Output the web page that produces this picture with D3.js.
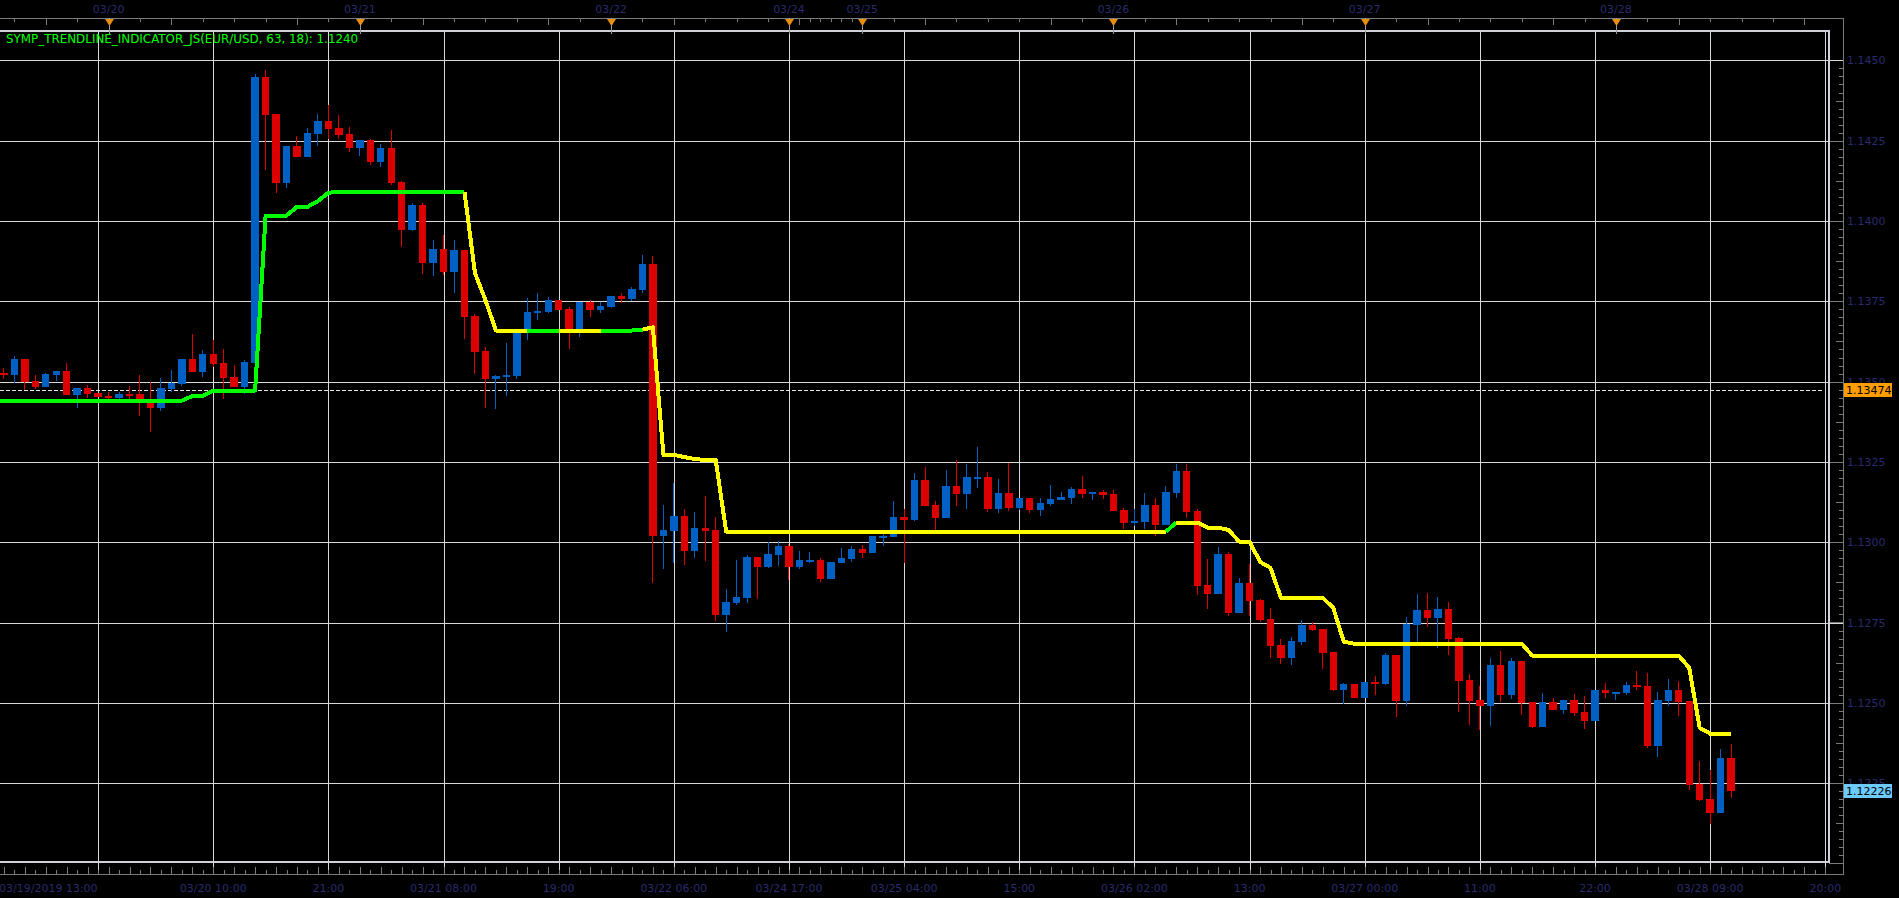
<!DOCTYPE html>
<html>
<head>
<meta charset="utf-8">
<script src="https://cdn.jsdelivr.net/npm/d3@7"></script>
<style>
  html, body { margin: 0; padding: 0; background: #000; overflow: hidden; }
  svg text { font-family: "DejaVu Sans", sans-serif; font-size: 11px; }
</style>
</head>
<body>
<div id="chart"></div>
<script>
// hourly EUR/USD candles, 03/19 14:00 .. 03/28 11:00 (weekend skipped)
const opens = [
  1.13528,1.13521,1.13570,1.13502,1.13484,1.13521,1.13533,1.13459,1.13480,1.13465,
  1.13455,1.13449,1.13462,1.13461,1.13440,1.13418,1.13477,1.13494,1.13570,1.13531,
  1.13587,1.13558,1.13514,1.13484,1.13559,1.14448,1.14333,1.14118,1.14234,1.14199,
  1.14271,1.14311,1.14290,1.14271,1.14227,1.14252,1.14184,1.14227,1.14121,1.13972,
  1.14050,1.13869,1.13913,1.13841,1.13910,1.13704,1.13595,1.13508,1.13514,1.13517,
  1.13654,1.13715,1.13717,1.13754,1.13726,1.13658,1.13748,1.13723,1.13732,1.13767,
  1.13757,1.13785,1.13866,1.13019,1.13035,1.13082,1.12973,1.13044,1.13038,1.12774,
  1.12811,1.12826,1.12954,1.12923,1.12960,1.12988,1.12923,1.12942,1.12945,1.12886,
  1.12935,1.12948,1.12979,1.12967,1.13017,1.13016,1.13079,1.13069,1.13194,1.13116,
  1.13076,1.13175,1.13150,1.13200,1.13203,1.13104,1.13153,1.13107,1.13138,1.13100,
  1.13119,1.13132,1.13138,1.13166,1.13150,1.13156,1.13150,1.13100,1.13060,1.13063,
  1.13116,1.13054,1.13153,1.13222,1.13097,1.12867,1.12839,1.12963,1.12780,1.12873,
  1.12820,1.12761,1.12680,1.12640,1.12690,1.12742,1.12730,1.12658,1.12540,1.12559,
  1.12515,1.12565,1.12559,1.12649,1.12506,1.12742,1.12789,1.12764,1.12792,1.12702,
  1.12571,1.12509,1.12490,1.12618,1.12525,1.12630,1.12503,1.12425,1.12503,1.12478,
  1.12509,1.12472,1.12444,1.12540,1.12531,1.12531,1.12556,1.12553,1.12366,1.12506,
  1.12540,1.12506,1.12247,1.12201,1.12157,1.12328
];
const highs = [
  1.13542,1.13581,1.13570,1.13521,1.13528,1.13533,1.13559,1.13480,1.13490,1.13465,
  1.13468,1.13468,1.13486,1.13521,1.13499,1.13511,1.13536,1.13570,1.13648,1.13598,
  1.13630,1.13602,1.13552,1.13567,1.14458,1.14470,1.14333,1.14234,1.14265,1.14290,
  1.14333,1.14361,1.14330,1.14293,1.14252,1.14255,1.14240,1.14283,1.14125,1.14056,
  1.14056,1.13941,1.13956,1.13941,1.13910,1.13710,1.13608,1.13521,1.13620,1.13654,
  1.13760,1.13776,1.13763,1.13754,1.13732,1.13748,1.13754,1.13748,1.13767,1.13776,
  1.13795,1.13894,1.13891,1.13116,1.13184,1.13104,1.13094,1.13144,1.13079,1.12854,
  1.12945,1.12960,1.12954,1.13001,1.13004,1.12995,1.12973,1.12970,1.12951,1.12939,
  1.12982,1.12988,1.12991,1.13019,1.13035,1.13128,1.13104,1.13216,1.13234,1.13128,
  1.13225,1.13256,1.13244,1.13297,1.13219,1.13197,1.13247,1.13138,1.13138,1.13138,
  1.13178,1.13156,1.13172,1.13206,1.13156,1.13163,1.13163,1.13107,1.13104,1.13153,
  1.13138,1.13175,1.13244,1.13244,1.13104,1.12948,1.12985,1.12970,1.12889,1.12932,
  1.12823,1.12795,1.12699,1.12705,1.12758,1.12752,1.12730,1.12658,1.12562,1.12559,
  1.12565,1.12584,1.12655,1.12649,1.12767,1.12839,1.12842,1.12830,1.12814,1.12705,
  1.12590,1.12553,1.12640,1.12661,1.12640,1.12630,1.12503,1.12531,1.12515,1.12509,
  1.12528,1.12521,1.12540,1.12562,1.12534,1.12565,1.12599,1.12593,1.12534,1.12574,
  1.12568,1.12506,1.12319,1.12291,1.12356,1.12372
];
const lows = [
  1.13508,1.13495,1.13474,1.13477,1.13484,1.13502,1.13459,1.13419,1.13449,1.13453,
  1.13443,1.13446,1.13443,1.13394,1.13343,1.13409,1.13467,1.13487,1.13531,1.13515,
  1.13547,1.13447,1.13483,1.13462,1.13559,1.14159,1.14087,1.14103,1.14199,1.14199,
  1.14234,1.14255,1.14255,1.14215,1.14202,1.14174,1.14168,1.14112,1.13919,1.13969,
  1.13835,1.13829,1.13832,1.13776,1.13633,1.13524,1.13418,1.13415,1.13455,1.13508,
  1.13630,1.13692,1.13714,1.13723,1.13602,1.13639,1.13701,1.13714,1.13729,1.13745,
  1.13751,1.13776,1.12873,1.12917,1.12935,1.12929,1.12951,1.12942,1.12755,1.12721,
  1.12805,1.12811,1.12823,1.12920,1.12926,1.12883,1.12917,1.12935,1.12876,1.12886,
  1.12935,1.12939,1.12951,1.12967,1.12988,1.13016,1.12935,1.13066,1.13113,1.13038,
  1.13076,1.13113,1.13104,1.13169,1.13094,1.13091,1.13097,1.13100,1.13091,1.13082,
  1.13113,1.13132,1.13119,1.13138,1.13132,1.13135,1.13097,1.13041,1.13051,1.13041,
  1.13019,1.13054,1.13138,1.13076,1.12836,1.12792,1.12839,1.12770,1.12780,1.12770,
  1.12752,1.12640,1.12621,1.12618,1.12680,1.12724,1.12605,1.12537,1.12496,1.12515,
  1.12515,1.12525,1.12556,1.12456,1.12490,1.12690,1.12736,1.12671,1.12649,1.12472,
  1.12431,1.12416,1.12428,1.12503,1.12512,1.12462,1.12422,1.12425,1.12478,1.12465,
  1.12459,1.12419,1.12444,1.12515,1.12509,1.12525,1.12540,1.12360,1.12331,1.12490,
  1.12459,1.12229,1.12195,1.12123,1.12157,1.12204
];
const closes = [
  1.13521,1.13570,1.13500,1.13484,1.13525,1.13533,1.13459,1.13480,1.13462,1.13453,
  1.13450,1.13461,1.13458,1.13446,1.13418,1.13480,1.13497,1.13570,1.13531,1.13587,
  1.13556,1.13512,1.13483,1.13561,1.14448,1.14330,1.14118,1.14234,1.14199,1.14274,
  1.14311,1.14286,1.14268,1.14227,1.14252,1.14184,1.14227,1.14118,1.13972,1.14050,
  1.13869,1.13913,1.13841,1.13910,1.13701,1.13592,1.13508,1.13517,1.13521,1.13654,
  1.13717,1.13721,1.13754,1.13723,1.13658,1.13748,1.13723,1.13735,1.13767,1.13757,
  1.13788,1.13866,1.13019,1.13038,1.13082,1.12973,1.13044,1.13035,1.12774,1.12814,
  1.12830,1.12954,1.12923,1.12963,1.12988,1.12923,1.12945,1.12945,1.12886,1.12939,
  1.12951,1.12979,1.12967,1.13019,1.13020,1.13079,1.13069,1.13194,1.13113,1.13076,
  1.13175,1.13150,1.13203,1.13203,1.13104,1.13153,1.13107,1.13138,1.13100,1.13122,
  1.13135,1.13141,1.13166,1.13150,1.13156,1.13147,1.13097,1.13060,1.13066,1.13116,
  1.13054,1.13156,1.13222,1.13094,1.12864,1.12839,1.12963,1.12780,1.12873,1.12817,
  1.12758,1.12677,1.12640,1.12693,1.12742,1.12727,1.12655,1.12540,1.12559,1.12515,
  1.12565,1.12559,1.12649,1.12506,1.12746,1.12789,1.12764,1.12792,1.12699,1.12568,
  1.12506,1.12490,1.12618,1.12525,1.12630,1.12500,1.12425,1.12503,1.12478,1.12509,
  1.12468,1.12444,1.12540,1.12531,1.12534,1.12556,1.12549,1.12366,1.12509,1.12540,
  1.12503,1.12244,1.12198,1.12157,1.12328,1.12226
];

// SYMP_TRENDLINE_INDICATOR_JS values, one per candle
const trendValues = [
  1.13441,1.13441,1.13441,1.13441,1.13441,1.13441,1.13441,1.13441,1.13441,1.13441,
  1.13441,1.13441,1.13441,1.13441,1.13441,1.13441,1.13441,1.13441,1.13455,1.13456,
  1.13472,1.13472,1.13472,1.13472,1.13472,1.14016,1.14017,1.14017,1.14044,1.14044,
  1.14062,1.14088,1.14091,1.14091,1.14091,1.14091,1.14091,1.14091,1.14091,1.14091,
  1.14091,1.14091,1.14091,1.14091,1.14091,1.13838,1.13754,1.13659,1.13659,1.13659,
  1.13659,1.13659,1.13659,1.13659,1.13659,1.13659,1.13659,1.13659,1.13659,1.13659,
  1.13659,1.13662,1.13669,1.13272,1.13272,1.13265,1.13259,1.13256,1.13256,1.13033,
  1.13033,1.13033,1.13033,1.13033,1.13033,1.13033,1.13033,1.13033,1.13033,1.13033,
  1.13033,1.13033,1.13033,1.13033,1.13033,1.13033,1.13033,1.13033,1.13033,1.13033,
  1.13033,1.13033,1.13033,1.13033,1.13033,1.13033,1.13033,1.13033,1.13033,1.13033,
  1.13033,1.13033,1.13033,1.13033,1.13033,1.13033,1.13033,1.13033,1.13033,1.13033,
  1.13033,1.13033,1.13061,1.13061,1.13061,1.13045,1.13045,1.13038,1.13002,1.13002,
  1.12939,1.12920,1.12827,1.12827,1.12827,1.12827,1.12827,1.12795,1.12690,1.12684,
  1.12684,1.12684,1.12684,1.12684,1.12684,1.12684,1.12684,1.12684,1.12684,1.12684,
  1.12684,1.12684,1.12684,1.12684,1.12684,1.12684,1.12647,1.12647,1.12647,1.12647,
  1.12647,1.12647,1.12647,1.12647,1.12647,1.12647,1.12647,1.12647,1.12647,1.12647,
  1.12647,1.12609,1.12422,1.12404,1.12404,1.12404
];
// G = rising (green), Y = falling (yellow)
const trendState = (
  "GGGGGGGGGG" + "GGGGGGGGGG" + "GGGGGGGGGG" + "GGGGGGGGGG" +
  "GGGGGYYYYY" + "YGGGYYYYGG" + "GGYYYYYYYY" + "YYYYYYYYYY" +
  "YYYYYYYYYY" + "YYYYYYYYYY" + "YYYYYYYYYY" + "YYGYYYYYYY" +
  "YYYYYYYYYY" + "YYYYYYYYYY" + "YYYYYYYYYY" + "YYYYYYYYYY" + "YYYYYY"
).split("");

// axis labels (candle index -> label)
const timeGridIdx = [9, 20, 31, 42, 53, 64, 75, 86, 97, 108, 119, 130, 141, 152, 163, 174];
const timeGridLabels = ["", "03/20 10:00", "21:00", "03/21 08:00", "19:00", "03/22 06:00",
  "03/24 17:00", "03/25 04:00", "15:00", "03/26 02:00", "13:00", "03/27 00:00",
  "11:00", "22:00", "03/28 09:00", "20:00"];
const firstTimeLabel = "03/19/2019 13:00";
const dayIdx = [10, 34, 58, 75, 82, 106, 130, 154];
const dayLabels = ["03/20", "03/21", "03/22", "03/24", "03/25", "03/26", "03/27", "03/28"];
const priceTicks = [1.1225, 1.1250, 1.1275, 1.1300, 1.1325, 1.1350, 1.1375, 1.1400, 1.1425, 1.1450];
const markPrice = 1.13474;
const lastPrice = 1.12226;
const indicatorLabel = "SYMP_TRENDLINE_INDICATOR_JS(EUR/USD, 63, 18): 1.1240";

const width = 1899, height = 898;
const plot = {left: 0, right: 1829, top: 31, bottom: 862};
const axisRight = 1843, axisTop = 18, axisBottom = 874;
const textColor = "#2a2a6c", axisColor = "#7a7a7a", gridColor = "#d8d8d8", frameColor = "#d0d2d8";
const upColor = "#0060c4", downColor = "#dc0000";

let candles = opens.map((o, i) => ({i, o, h: highs[i], l: lows[i], c: closes[i]}));

let x = d3.scaleLinear().domain([0, 174]).range([3.9, 1825.3]);
let y = d3.scaleLinear().domain([1.1225, 1.1450]).range([783.1, 60.4]);

let svg = d3.select("#chart").append("svg")
    .attr("width", width)
    .attr("height", height)
    .style("display", "block")
    .style("background-color", "#000");

let defs = svg.append("defs");
defs.append("clipPath").attr("id", "plotclip")
  .append("rect")
    .attr("x", plot.left).attr("y", plot.top)
    .attr("width", plot.right - plot.left).attr("height", plot.bottom - plot.top);

// price boxes hide the axis labels underneath them
const boxW = 48, boxH = 14;
function boxTop(p) { return Math.round(y(p) - 7); }
defs.append("clipPath").attr("id", "labelclip")
  .append("path")
    .attr("clip-rule", "evenodd")
    .attr("d", `M0,0 H${width} V${height} H0 Z ` +
        [markPrice, lastPrice].map(p => `M${axisRight + 1},${boxTop(p)} h${boxW} v${boxH} h${-boxW} Z`).join(" "));

// grid
let grid = svg.append("g").attr("shape-rendering", "crispEdges");
grid.selectAll(".hgrid")
    .data(priceTicks)
    .enter().append("line")
    .attr("x1", 0).attr("x2", axisRight)
    .attr("y1", d => Math.round(y(d)) + 0.5).attr("y2", d => Math.round(y(d)) + 0.5)
    .attr("stroke", gridColor).attr("stroke-width", 1);
grid.selectAll(".vgrid")
    .data(timeGridIdx)
    .enter().append("line")
    .attr("x1", d => Math.round(x(d)) + 0.5).attr("x2", d => Math.round(x(d)) + 0.5)
    .attr("y1", plot.top).attr("y2", axisBottom)
    .attr("stroke", gridColor).attr("stroke-width", 1);

// axes lines
let axes = svg.append("g").attr("shape-rendering", "crispEdges");
axes.append("line").attr("x1", 0).attr("x2", axisRight + 0.5).attr("y1", axisTop + 0.5).attr("y2", axisTop + 0.5)
    .attr("stroke", axisColor);
axes.append("line").attr("x1", 0).attr("x2", axisRight + 0.5).attr("y1", axisBottom + 0.5).attr("y2", axisBottom + 0.5)
    .attr("stroke", axisColor);
axes.append("line").attr("x1", axisRight + 0.5).attr("x2", axisRight + 0.5).attr("y1", axisTop).attr("y2", axisBottom + 1)
    .attr("stroke", axisColor);

// top axis ticks: every 3 hours, hourly across the weekend gap
let topTicks = d3.range(1, 175, 3).concat(d3.range(75, 82));
axes.selectAll(".ttick")
    .data(topTicks)
    .enter().append("line")
    .attr("x1", d => Math.round(x(d)) + 0.5).attr("x2", d => Math.round(x(d)) + 0.5)
    .attr("y1", axisTop).attr("y2", d => axisTop + ((d - 4) % 12 === 0 ? 7 : 4))
    .attr("stroke", axisColor);

// bottom axis ticks
let botTicks = d3.range(0, 175);
axes.selectAll(".btick")
    .data(botTicks)
    .enter().append("line")
    .attr("x1", d => Math.round(x(d)) + 0.5).attr("x2", d => Math.round(x(d)) + 0.5)
    .attr("y1", axisBottom).attr("y2", d => axisBottom - (d % 2 === 0 ? 7 : 4))
    .attr("stroke", axisColor);

// right axis ticks
let minorPrices = d3.range(0, 100).map(k => 1.1200 + k * 0.00025).filter(p => y(p) > axisTop && y(p) < axisBottom);
axes.selectAll(".rtick")
    .data(minorPrices)
    .enter().append("line")
    .attr("x1", d => {
        let k = Math.round((d - 1.1200) / 0.00025);
        return axisRight - (k % 10 === 0 ? 14 : (k % 5 === 0 ? 7 : 4));
    })
    .attr("x2", axisRight)
    .attr("y1", d => Math.round(y(d)) + 0.5).attr("y2", d => Math.round(y(d)) + 0.5)
    .attr("stroke", axisColor);

// frame
svg.append("path")
    .attr("d", `M0,${plot.top} H${plot.right} V${plot.bottom} H0`)
    .attr("fill", "none").attr("stroke", frameColor).attr("stroke-width", 2)
    .attr("shape-rendering", "crispEdges");

// dashed marker line
svg.append("line")
    .attr("x1", 0).attr("x2", x(174) - 2)
    .attr("y1", Math.round(y(markPrice)) + 0.5).attr("y2", Math.round(y(markPrice)) + 0.5)
    .attr("stroke", "#e8e8e8").attr("stroke-dasharray", "4,2")
    .attr("shape-rendering", "crispEdges");

// candles
let cg = svg.append("g").attr("clip-path", "url(#plotclip)").attr("shape-rendering", "crispEdges");
cg.selectAll(".wick")
    .data(candles)
    .enter().append("rect")
    .attr("x", d => Math.floor(x(d.i)))
    .attr("width", 1)
    .attr("y", d => Math.round(y(d.h)))
    .attr("height", d => Math.max(1, Math.round(y(d.l)) - Math.round(y(d.h))))
    .attr("fill", d => d.c >= d.o ? upColor : downColor);
cg.selectAll(".body")
    .data(candles)
    .enter().append("rect")
    .attr("x", d => Math.round(x(d.i) - 3.7))
    .attr("width", d => Math.round(x(d.i) + 3.7) - Math.round(x(d.i) - 3.7))
    .attr("y", d => Math.round(y(Math.max(d.o, d.c))))
    .attr("height", d => Math.max(2, Math.round(y(Math.min(d.o, d.c))) - Math.round(y(Math.max(d.o, d.c)))))
    .attr("fill", d => d.c >= d.o ? upColor : downColor);

// trend line, coloured by state
let pts = trendValues.map((v, i) => [x(i), y(v)]);
pts.unshift([x(-1), y(trendValues[0])]);
let states = [trendState[0]].concat(trendState);
let runs = [];
for (let k = 1; k < pts.length; k++) {
    let s = states[k];
    if (!runs.length || runs[runs.length - 1].s !== s) runs.push({s, p: [pts[k - 1]]});
    runs[runs.length - 1].p.push(pts[k]);
}
let line = d3.line();
svg.append("g").attr("clip-path", "url(#plotclip)")
  .selectAll("path")
    .data(runs)
    .enter().append("path")
    .attr("d", d => line(d.p))
    .attr("fill", "none")
    .attr("stroke", d => d.s === "G" ? "#00ff00" : "#ffff00")
    .attr("stroke-width", 4)
    .attr("stroke-linejoin", "round")
    .attr("shape-rendering", "crispEdges");

// price labels
svg.append("g").attr("clip-path", "url(#labelclip)")
  .selectAll("text")
    .data(priceTicks)
    .enter().append("text")
    .attr("x", axisRight + 4)
    .attr("y", d => y(d) + 4)
    .attr("fill", textColor)
    .text(d => d.toFixed(4));

// time labels
svg.append("g").selectAll("text")
    .data(timeGridIdx.filter((d, k) => timeGridLabels[k] !== ""))
    .enter().append("text")
    .attr("x", d => x(d))
    .attr("y", 892)
    .attr("text-anchor", "middle")
    .attr("fill", textColor)
    .text(d => timeGridLabels[timeGridIdx.indexOf(d)]);
svg.append("text")
    .attr("x", -1).attr("y", 892)
    .attr("fill", textColor)
    .text(firstTimeLabel);

// day markers on top axis
let days = svg.append("g");
days.selectAll(".dstem")
    .data(dayIdx)
    .enter().append("line")
    .attr("x1", d => Math.round(x(d)) + 0.5).attr("x2", d => Math.round(x(d)) + 0.5)
    .attr("y1", axisTop).attr("y2", plot.top + 3)
    .attr("stroke", "#9a9a9a").attr("shape-rendering", "crispEdges");
days.selectAll(".dtri")
    .data(dayIdx)
    .enter().append("path")
    .attr("d", d => {
        let cx = Math.round(x(d)) + 0.5;
        return `M${cx - 4.5},${axisTop + 1} H${cx + 4.5} L${cx},${axisTop + 8} Z`;
    })
    .attr("fill", "#e8900c");
days.selectAll("text")
    .data(dayIdx)
    .enter().append("text")
    .attr("x", d => x(d))
    .attr("y", 13)
    .attr("text-anchor", "middle")
    .attr("fill", textColor)
    .text((d, k) => dayLabels[k]);

// price boxes on the right axis
function priceBox(p, fill) {
    svg.append("rect")
        .attr("x", axisRight + 1).attr("y", boxTop(p))
        .attr("width", boxW).attr("height", boxH)
        .attr("fill", fill);
    svg.append("text")
        .attr("x", axisRight + 3).attr("y", y(p) + 4)
        .attr("fill", "#000")
        .text(p.toFixed(5));
}
priceBox(markPrice, "#ff9c00");
priceBox(lastPrice, "#6ccaff");

// indicator caption
svg.append("text")
    .attr("x", 6).attr("y", 43)
    .attr("fill", "#00ff00")
    .style("font-size", "11.9px")
    .text(indicatorLabel);
</script>
</body>
</html>
